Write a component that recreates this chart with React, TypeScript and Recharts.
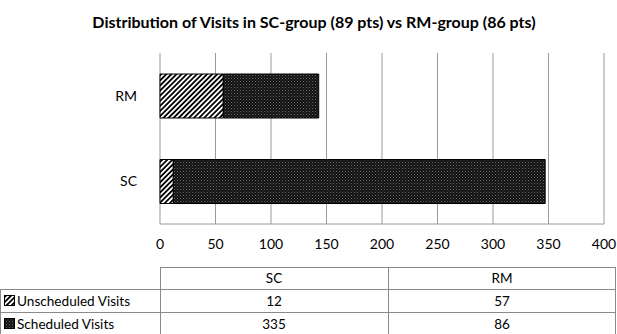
import React from 'react';
import { BarChart, Bar, XAxis, YAxis, CartesianGrid } from 'recharts';

const title = 'Distribution of Visits in SC-group (89 pts) vs RM-group (86 pts)';
const categories = ['SC', 'RM'];
const unscheduledVisits = [12, 57];
const scheduledVisits = [335, 86];
const seriesNames = ['Unscheduled Visits', 'Scheduled Visits'];
const seriesPatterns = ['url(#hatch)', 'url(#dots)'];
const xTicks = [0, 50, 100, 150, 200, 250, 300, 350, 400];

const seriesValues = [unscheduledVisits, scheduledVisits];
const data = categories.map((c, i) => ({
  name: c,
  unscheduled: unscheduledVisits[i],
  scheduled: scheduledVisits[i],
}));

const FONT = 'Lato, "Open Sans", sans-serif';
const GRID = '#9a9a9a';
const TBL = '#8a8a8a';

const Defs = () => (
  <defs>
    <pattern id="hatch" patternUnits="userSpaceOnUse" width="3.6" height="3.6" patternTransform="rotate(45)">
      <rect x="0" y="0" width="3.6" height="3.6" fill="#fff" />
      <rect x="0" y="0" width="1.8" height="3.6" fill="#000" />
    </pattern>
    <pattern id="dots" patternUnits="userSpaceOnUse" width="3" height="3">
      <rect x="0" y="0" width="3" height="3" fill="#121212" />
      <rect x="0" y="0" width="1" height="1" fill="#6a6a6a" />
      <rect x="1.5" y="1.5" width="1" height="1" fill="#4a4a4a" />
    </pattern>
  </defs>
);

const colLeft = [160, 388];
const colWidth = 228;
const rowTops = [267, 289, 312];
const rowHeights = [22, 23, 24];

export default function App() {
  return (
    <div style={{ position: 'absolute', left: 0, top: 0, width: 617, height: 334, background: '#fff', fontFamily: FONT, color: '#000', overflow: 'hidden' }}>
      <div style={{ position: 'absolute', left: 0, top: 12, width: 628, textAlign: 'center', fontWeight: 700, fontSize: 16, lineHeight: '20px' }}>
        {title}
      </div>
      <div style={{ position: 'absolute', left: 0, top: 0 }}>
        <BarChart width={617} height={260} data={data} layout="vertical" margin={{ top: 53, right: 13, left: 0, bottom: 0 }}>
          <Defs />
          <CartesianGrid horizontal={false} stroke={GRID} strokeWidth={1} />
          <XAxis
            type="number"
            domain={[0, 400]}
            ticks={xTicks}
            interval={0}
            axisLine={{ stroke: GRID }}
            tickLine={false}
            tickMargin={9}
            height={36}
            tick={{ fill: '#000', fontSize: 14, fontFamily: FONT }}
          />
          <YAxis
            type="category"
            dataKey="name"
            width={160}
            reversed
            axisLine={false}
            tickLine={false}
            tickMargin={17}
            tick={{ fill: '#000', fontSize: 14, fontFamily: FONT }}
          />
          <Bar dataKey="unscheduled" stackId="a" fill={seriesPatterns[0]} stroke="#000" strokeWidth={1} barSize={44} isAnimationActive={false} />
          <Bar dataKey="scheduled" stackId="a" fill={seriesPatterns[1]} stroke="#000" strokeWidth={1} barSize={44} isAnimationActive={false} />
        </BarChart>
      </div>
      {/* data table */}
      <svg width={617} height={334} style={{ position: 'absolute', left: 0, top: 0 }}>
        <Defs />
        <rect x={160.5} y={rowTops[0] + 0.5} width={455} height={rowHeights[0]} fill="none" stroke={TBL} />
        {seriesNames.map((_, r) => (
          <rect key={r} x={0.5} y={rowTops[r + 1] + 0.5} width={615} height={rowHeights[r + 1]} fill="none" stroke={TBL} />
        ))}
        <line x1={160.5} x2={160.5} y1={rowTops[0]} y2={334} stroke={TBL} />
        <line x1={388.5} x2={388.5} y1={rowTops[0]} y2={334} stroke={TBL} />
        {categories.map((c, i) => (
          <text key={c} x={colLeft[i] + colWidth / 2} y={rowTops[0] + 16} textAnchor="middle" fontSize={13.5} fontFamily={FONT} fill="#000">{c}</text>
        ))}
        {seriesNames.map((s, r) => (
          <g key={s}>
            <rect x={4.5} y={rowTops[r + 1] + 6.5} width={10} height={10} fill={seriesPatterns[r]} stroke="#000" />
            <text x={17} y={rowTops[r + 1] + 16.5} fontSize={13.6} fontFamily={FONT} fill="#000">{s}</text>
            {categories.map((c, i) => (
              <text key={c} x={colLeft[i] + colWidth / 2} y={rowTops[r + 1] + 16.5} textAnchor="middle" fontSize={13.5} fontFamily={FONT} fill="#000">{seriesValues[r][i]}</text>
            ))}
          </g>
        ))}
      </svg>
    </div>
  );
}
